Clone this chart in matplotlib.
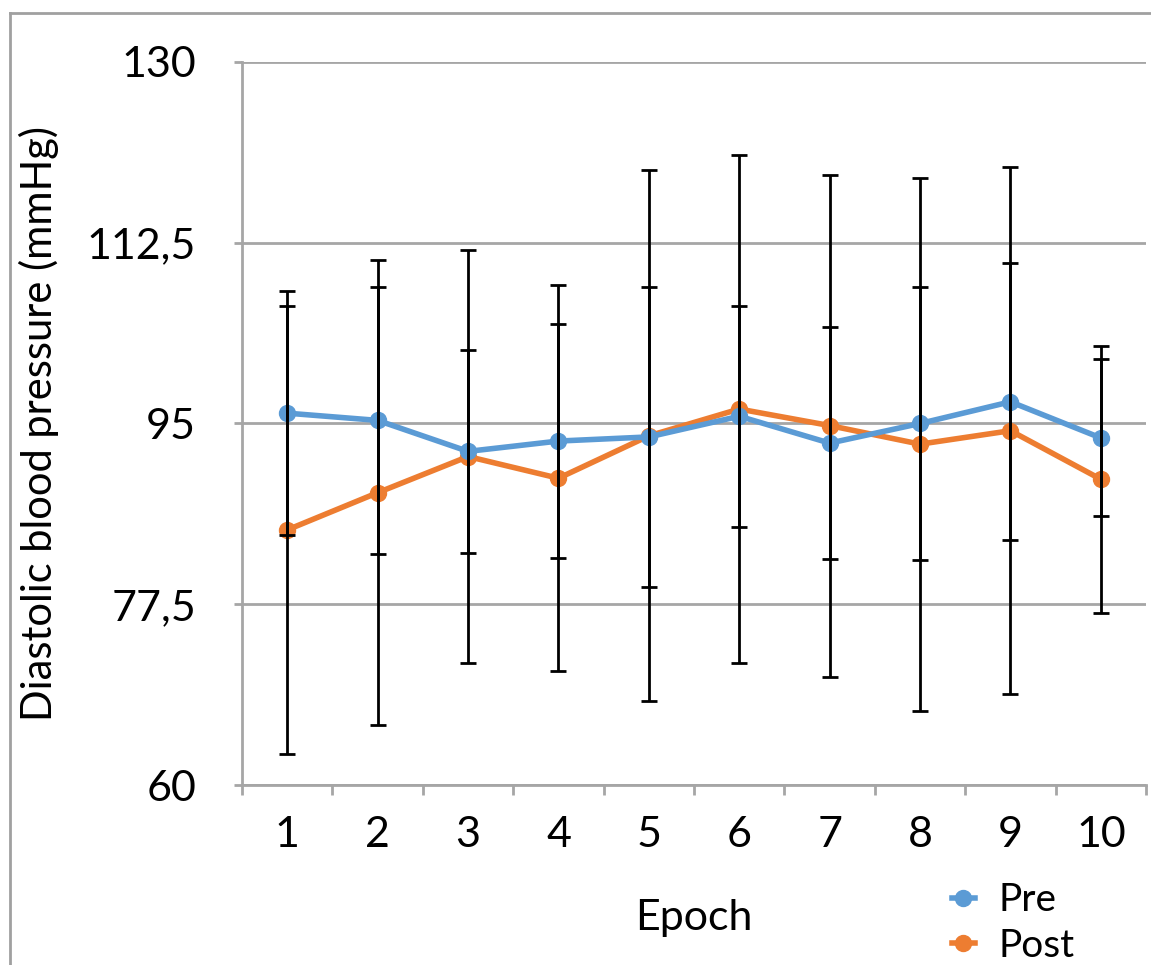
import matplotlib
matplotlib.use('Agg')
import matplotlib.pyplot as plt
from matplotlib.lines import Line2D

plt.rcParams['font.family'] = ['Lato', 'DejaVu Sans']

# data
epochs = ['1', '2', '3', '4', '5', '6', '7', '8', '9', '10']
pre_mean = [96.0, 95.3, 92.3, 93.3, 93.7, 95.7, 93.1, 95.0, 97.1, 93.6]
pre_err = [11.8, 12.9, 9.8, 11.3, 14.5, 10.7, 11.2, 13.2, 13.4, 7.6]
post_mean = [84.7, 88.3, 91.8, 89.7, 93.8, 96.4, 94.8, 93.0, 94.3, 89.6]
post_err = [21.7, 22.5, 20.0, 18.7, 25.7, 24.6, 24.3, 25.8, 25.5, 12.9]
y_ticks = [60, 77.5, 95, 112.5, 130]
y_tick_labels = ['60', '77,5', '95', '112,5', '130']

blue = '#5B9BD5'
orange = '#ED7D31'
grid_gray = '#A6A6A6'

fig = plt.figure(figsize=(11.51, 9.65), dpi=100)
ax = fig.add_axes([0.2103, 0.1865, 0.7854, 0.7493])

x = list(range(1, len(epochs) + 1))

ax.plot(x, post_mean, color=orange, lw=4, marker='o', ms=11.5, label='Post', zorder=3)
ax.plot(x, pre_mean, color=blue, lw=4, marker='o', ms=11.5, label='Pre', zorder=4)

ax.errorbar(x, pre_mean, yerr=pre_err, fmt='none', ecolor='black', elinewidth=2,
            capsize=5.5, capthick=2, zorder=5)
ax.errorbar(x, post_mean, yerr=post_err, fmt='none', ecolor='black', elinewidth=2,
            capsize=5.5, capthick=2, zorder=5)

ax.set_xlim(0.5, 10.5)
ax.set_ylim(60, 130)
ax.set_yticks(y_ticks)
ax.set_yticklabels(y_tick_labels)
ax.set_xticks(x)
ax.set_xticklabels(epochs)
ax.set_xticks([i + 0.5 for i in range(0, 11)], minor=True)

ax.yaxis.grid(True, color=grid_gray, lw=2)
ax.set_axisbelow(True)
for s in ['top', 'right']:
    ax.spines[s].set_visible(False)
for s in ['left', 'bottom']:
    ax.spines[s].set_color(grid_gray)
    ax.spines[s].set_linewidth(2)

ax.tick_params(axis='y', length=6, width=2, color=grid_gray, labelsize=31, pad=27)
ax.tick_params(axis='x', which='major', length=0, labelsize=31, pad=22)
ax.tick_params(axis='x', which='minor', length=7, width=2, color=grid_gray)

ax.set_ylabel('Diastolic blood pressure (mmHg)', fontsize=30, labelpad=20)
ax.set_xlabel('Epoch', fontsize=31, labelpad=33)

h, l = ax.get_legend_handles_labels()
leg = fig.legend([h[1], h[0]], [l[1], l[0]], loc='upper left', bbox_to_anchor=(0.81, 0.106),
                 frameon=False, fontsize=28, handlelength=0.6, handletextpad=0.6,
                 labelspacing=0.25, borderpad=0)

# outer border lines (left and top) like the source screenshot
fig.add_artist(Line2D([10 / 1151, 10 / 1151], [0, 1 - 13 / 965], transform=fig.transFigure,
                      color='#A0A0A0', lw=2))
fig.add_artist(Line2D([10 / 1151, 1], [1 - 13 / 965, 1 - 13 / 965], transform=fig.transFigure,
                      color='#A0A0A0', lw=2))

fig.savefig('out.png', dpi=100)
